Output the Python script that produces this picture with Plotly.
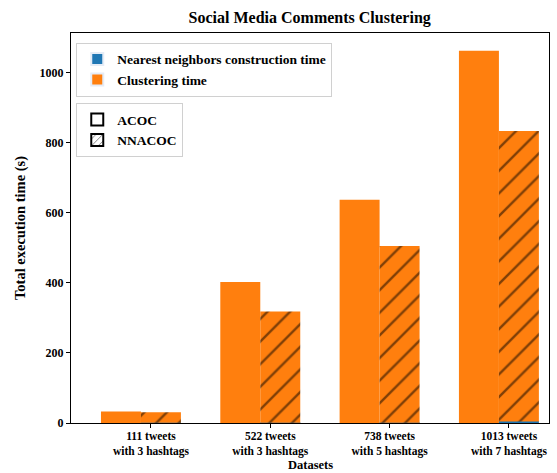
import plotly.graph_objects as go

# Dataset groups on the x axis
datasets = [
    "111 tweets<br>with 3 hashtags",
    "522 tweets<br>with 3 hashtags",
    "738 tweets<br>with 5 hashtags",
    "1013 tweets<br>with 7 hashtags",
]
group_pos = [0, 1, 2, 3]

# Execution times (seconds)
acoc_clustering = [33, 403, 638, 1063]
nnacoc_nn_construction = [0.5, 0.5, 0.5, 4]
nnacoc_clustering = [30, 318, 505, 830]

BLUE = "#1f77b4"
ORANGE = "#ff7f0e"
FONT = "Liberation Serif"
w = 0.335  # bar width in axis units

fig = go.Figure()

# ACOC: clustering time only
fig.add_trace(go.Bar(
    x=group_pos, y=acoc_clustering, width=w, offset=-1.25 * w,
    marker=dict(color=ORANGE, line=dict(width=0)),
    showlegend=False, hoverinfo="y",
))

# NNACOC: nearest-neighbour construction at the base, clustering stacked above
fig.add_trace(go.Bar(
    x=group_pos, y=nnacoc_nn_construction, width=w, offset=-0.25 * w,
    marker=dict(color=BLUE, line=dict(width=0)),
    showlegend=False, hoverinfo="y",
))
fig.add_trace(go.Bar(
    x=group_pos, y=nnacoc_clustering, base=nnacoc_nn_construction,
    width=w, offset=-0.25 * w,
    marker=dict(color=ORANGE, line=dict(width=0),
                pattern=dict(shape="/", fgcolor="black", bgcolor=ORANGE,
                             size=16, solidity=0.15, fillmode="overlay")),
    showlegend=False, hoverinfo="y",
))

# Legend entries: time components
fig.add_trace(go.Bar(x=[None], y=[None], name="Nearest neighbors construction time",
                     marker=dict(color=BLUE), legend="legend"))
fig.add_trace(go.Bar(x=[None], y=[None], name="Clustering time",
                     marker=dict(color=ORANGE), legend="legend"))
# Legend entries: algorithms
fig.add_trace(go.Bar(x=[None], y=[None], name="ACOC",
                     marker=dict(color="white", line=dict(color="black", width=1)),
                     legend="legend2"))
fig.add_trace(go.Bar(x=[None], y=[None], name="NNACOC",
                     marker=dict(color="white", line=dict(color="black", width=1),
                                 pattern=dict(shape="/", fgcolor="black", bgcolor="white",
                                              size=6, solidity=0.2)),
                     legend="legend2"))

legend_style = dict(
    bgcolor="rgba(255,255,255,0.8)", bordercolor="#d0d0d0", borderwidth=1,
    font=dict(family=FONT, size=13.5, color="black", weight="bold"),
    xanchor="left", yanchor="top", itemsizing="constant", tracegroupgap=0,
)

fig.update_layout(
    width=557, height=473,
    margin=dict(l=71, r=8, t=33, b=50),
    plot_bgcolor="white", paper_bgcolor="white",
    barmode="overlay",
    font=dict(family=FONT, size=12, color="black", weight="bold"),
    title=dict(text="Social Media Comments Clustering", x=0.556, xanchor="center",
               y=0.964, yanchor="middle",
               font=dict(family=FONT, size=16, color="black", weight="bold")),
    legend=dict(x=0.011, y=0.975, **legend_style),
    legend2=dict(x=0.011, y=0.82, **legend_style),
    xaxis=dict(
        range=[-0.67, 3.336], tickmode="array", tickvals=group_pos, ticktext=datasets,
        ticks="outside", ticklen=4, tickcolor="black", showgrid=False, zeroline=False,
        showline=True, linecolor="black", linewidth=1, mirror=True,
        ticklabelstandoff=-2, automargin=False,
        tickfont=dict(family=FONT, size=11.5, color="black", weight="bold"),
    ),
    yaxis=dict(
        range=[0, 1114], tickmode="array", tickvals=[0, 200, 400, 600, 800, 1000],
        ticks="outside", ticklen=4, tickcolor="black", showgrid=False, zeroline=False,
        showline=True, linecolor="black", linewidth=1, mirror=True, automargin=False,
        tickfont=dict(family=FONT, size=12, color="black", weight="bold"),
        title=dict(text="Total execution time (s)", standoff=10,
                   font=dict(family=FONT, size=14.5, color="black", weight="bold")),
    ),
    annotations=[dict(
        text="Datasets", xref="paper", yref="paper", x=0.5, y=-0.1282,
        xanchor="center", yanchor="bottom", showarrow=False, borderpad=0,
        font=dict(family=FONT, size=12.5, color="black", weight="bold"),
    )],
)

fig.write_html("out.html")
